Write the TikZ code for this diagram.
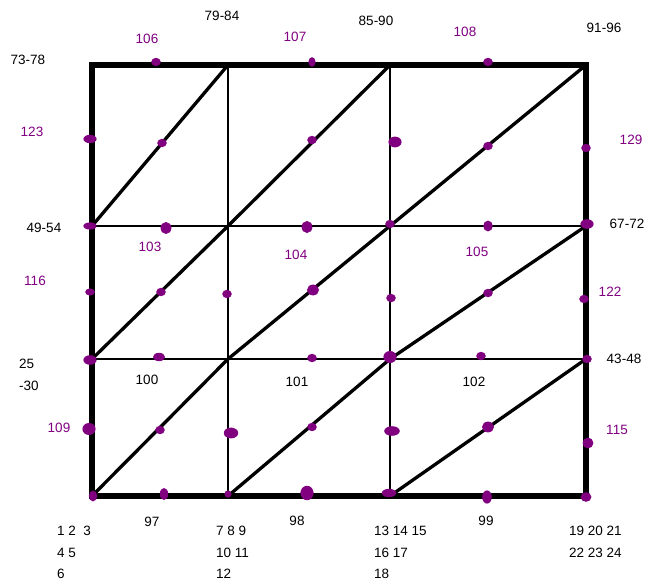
\documentclass[tikz,border=0pt]{standalone}
\usepackage{fontspec}
\setmainfont{Liberation Sans}
\usetikzlibrary{shapes.geometric}
\definecolor{dotpurple}{RGB}{128,0,128}
\begin{document}
\begin{tikzpicture}[x=1pt,y=-1pt,
  outer/.style={line width=6.5pt,line join=miter},
  inner/.style={line width=2.2pt},
  diag/.style={line width=3.3pt,line cap=round},
  dot/.style={shape=ellipse,fill=dotpurple,inner sep=0pt,minimum width=8pt,minimum height=7pt,scale=1.2},
  bigdot/.style={dot,minimum width=11pt,minimum height=10pt},
  wdot/.style={dot,minimum width=11pt,minimum height=7pt},
  lab/.style={font=\fontsize{13.5}{21.5}\selectfont,inner sep=0pt},
  plab/.style={lab,text=dotpurple},
  grp/.style={lab,align=left,anchor=north west}]
\useasboundingbox (0,0) rectangle (648,583);
% grid coordinates
\foreach \c/\x in {a/92,b/228,c/390,d/586}{
  \foreach \r/\y in {1/65,2/226,3/359,4/496}{
    \coordinate (\c\r) at (\x,\y);
  }
}
% inner grid lines
\draw[inner] (b1) -- (b4);
\draw[inner] (c1) -- (c4);
\draw[inner] (a2) -- (d2);
\draw[inner] (a3) -- (d3);
% diagonals
\draw[diag] (a2) -- (b1);
\draw[diag] (b2) -- (c1);
\draw[diag] (c2) -- (d1);
\draw[diag] (a3) -- (b2);
\draw[diag] (b3) -- (c2);
\draw[diag] (c3) -- (d2);
\draw[diag] (a4) -- (b3);
\draw[diag] (b4) -- (c3);
\draw[diag] (c4) -- (d3);
% outer frame
\draw[outer] (a1) rectangle (d4);
% dots
\node[dot] (p106) at (156,62) {};
\node[dot,minimum width=6pt,minimum height=8pt] (p107) at (312,62) {};
\node[dot] (p108) at (488,62) {};
\node[wdot] (p123) at (90,139) {};
\node[dot] (q1) at (162,143) {};
\node[dot] (q2) at (312,140) {};
\node[wdot,minimum height=9pt] (q3) at (395,142) {};
\node[dot] (q4) at (488,146) {};
\node[dot] (p129) at (586,148) {};
\node[wdot,minimum height=6pt] (r1) at (90,226) {};
\node[bigdot,minimum width=9pt] (r2) at (166,228) {};
\node[dot,minimum width=9pt,minimum height=10pt] (r3) at (307,227) {};
\node[dot] (r4) at (390,224) {};
\node[dot,minimum height=9pt] (r5) at (488,226) {};
\node[wdot,minimum height=8pt] (r6) at (587,224) {};
\node[dot,minimum height=6pt] (p116) at (90,292) {};
\node[dot] (s1) at (161,292) {};
\node[dot] (s2) at (227,294) {};
\node[dot,minimum width=10pt,minimum height=9pt] (s3) at (313,290) {};
\node[dot] (s4) at (391,298) {};
\node[dot] (s5) at (488,293) {};
\node[dot] (p122) at (584,299) {};
\node[wdot,minimum height=8pt] (t1) at (90,360) {};
\node[dot,minimum width=10pt] (t2) at (159,357) {};
\node[dot] (t3) at (312,358) {};
\node[bigdot] (t4) at (390,357) {};
\node[dot] (t5) at (481,356) {};
\node[dot] (t6) at (587,359) {};
\node[bigdot] (p109) at (89,429) {};
\node[dot] (u1) at (160,430) {};
\node[bigdot,minimum width=12pt,minimum height=9pt] (u2) at (231,433) {};
\node[dot] (u3) at (312,427) {};
\node[wdot,minimum width=13pt,minimum height=8pt] (u4) at (392,431) {};
\node[dot,minimum width=10pt,minimum height=9pt] (u5) at (488,427) {};
\node[dot,minimum width=9pt,minimum height=9pt] (p115) at (588,443) {};
\node[dot,minimum width=7pt,minimum height=9pt] (v1) at (93,496) {};
\node[dot,minimum width=7pt,minimum height=10pt] (p97) at (164,494) {};
\node[dot,minimum width=6pt,minimum height=6pt] (v2) at (228,494) {};
\node[bigdot,minimum width=11pt,minimum height=12pt] (p98) at (307,493) {};
\node[wdot,minimum width=12pt] (v3) at (389,493) {};
\node[dot,minimum height=11pt] (p99) at (487,497) {};
\node[dot,minimum width=9pt,minimum height=8pt] (v4) at (586,497) {};
% black labels
\node[lab] (l7984) at (222,16) {79-84};
\node[lab] (l8590) at (376,21) {85-90};
\node[lab] (l9196) at (604,28) {91-96};
\node[lab] (l7378) at (28,60) {73-78};
\node[lab] (l4954) at (44,228) {49-54};
\node[lab] (l6772) at (627,224) {67-72};
\node[lab,align=left,anchor=west] (l2530) at (19,375) {25\\-30};
\node[lab] (l4348) at (624,359) {43-48};
\node[lab] (l100) at (147,380) {100};
\node[lab] (l101) at (297,382) {101};
\node[lab] (l102) at (474,382) {102};
\node[lab] (l97) at (152,522) {97};
\node[lab] (l98) at (297,521) {98};
\node[lab] (l99) at (486,521) {99};
\node[grp] (g1) at (57,526) {1 2~~3\\4 5\\6};
\node[grp] (g2) at (216,526) {7 8 9\\10 11\\12};
\node[grp] (g3) at (374,526) {13 14 15\\16 17\\18};
\node[grp] (g4) at (569,526) {19 20 21\\22 23 24};
% purple labels
\node[plab] (l106) at (147,39) {106};
\node[plab] (l107) at (295,37) {107};
\node[plab] (l108) at (465,32) {108};
\node[plab] (l123) at (32,132) {123};
\node[plab] (l129) at (631,140) {129};
\node[plab] (l103) at (150,247) {103};
\node[plab] (l104) at (296,255) {104};
\node[plab] (l105) at (477,252) {105};
\node[plab] (l116) at (35,281) {116};
\node[plab] (l122) at (610,292) {122};
\node[plab] (l109) at (59,428) {109};
\node[plab] (l115) at (617,430) {115};
\end{tikzpicture}
\end{document}
